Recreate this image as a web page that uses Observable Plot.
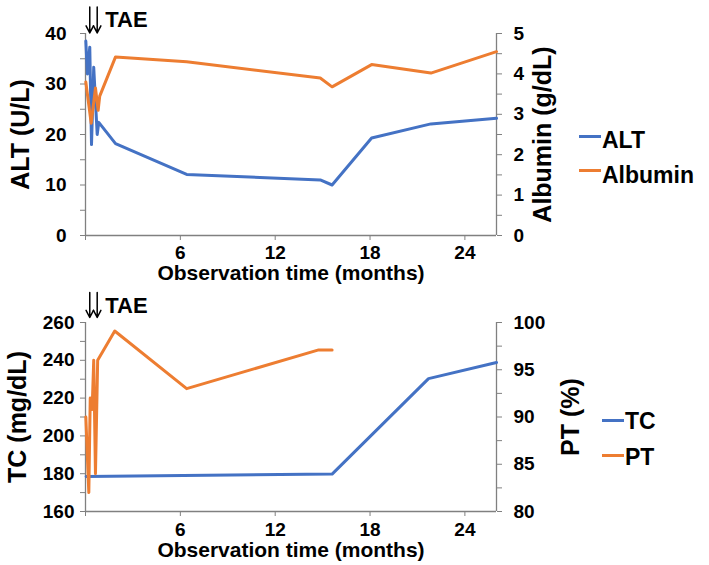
<!DOCTYPE html>
<html><head><meta charset="utf-8">
<script src="https://cdn.jsdelivr.net/npm/d3@7"></script>
<script src="https://cdn.jsdelivr.net/npm/@observablehq/plot@0.6"></script>
<style>
body{margin:0;background:#fff;}
#wrap{position:relative;width:709px;height:565px;font-family:'Liberation Sans',Arial,sans-serif;font-weight:bold;color:#000;background:#fff;}
#wrap svg{display:block;}
.sw{position:absolute;height:3px;width:22px;}
.lt{position:absolute;font-size:23px;line-height:23px;white-space:nowrap;}
</style></head><body><div id="wrap"></div>
<script>
// ---- data ----
const xTicks = [0, 6, 12, 18, 24];
const xMax = 26;
const taeMonths = [0.27, 0.74];

const altMonths = [0.02, 0.12, 0.27, 0.38, 0.52, 0.74, 0.84, 1.9, 6.4, 14.85, 15.6, 18.1, 21.85, 26];
const altValues = [38.5, 32.0, 37.3, 18.0, 33.3, 20.0, 22.4, 18.2, 12.1, 11.0, 10.0, 19.3, 22.1, 23.2];

const albMonths = [0.02, 0.36, 0.63, 0.8, 0.9, 1.9, 6.4, 14.85, 15.6, 18.1, 21.85, 26];
const albValues = [3.8, 2.78, 3.65, 3.1, 3.45, 4.42, 4.3, 3.9, 3.68, 4.23, 4.02, 4.55];

const tcMonths = [0.04, 15.6, 21.7, 26];
const tcValues = [178.5, 179.8, 230.3, 238.8];

const ptMonths = [0.02, 0.21, 0.3, 0.42, 0.52, 0.63, 0.77, 1.85, 6.4, 14.75, 15.6];
const ptValues = [90.0, 82.0, 92.0, 90.8, 96.0, 84.0, 96.0, 99.1, 93.0, 97.1, 97.1];

const altTicks = d3.range(0, 41, 5);      // labels every 10
const albTicks = d3.range(0, 5.01, 0.5);  // labels every 1
const tcTicks = d3.range(160, 261, 10);   // labels every 20
const ptTicks = d3.range(80, 100.01, 2.5);// labels every 5

// ---- style ----
const BLUE = "#4472C4", ORANGE = "#ED7D31", AXIS = "#808080";
const FONT = "'Liberation Sans', Arial, sans-serif";
const W = 709, ML = 85, MR = 213;
const TICK_FS = 19;

function rows(ts, vs, f = v => v) { return ts.map((t, i) => ({t, v: f(vs[i])})); }

function chart(o) {
  const [y0, y1] = o.yDomain;
  const innerH = o.height - o.marginTop - o.marginBottom;
  const ppu = innerH / (y1 - y0);
  const toLeft = o.toLeft;
  const txt = {fontWeight: "bold", fill: "black", lineAnchor: "middle"};
  return Plot.plot({
    width: W, height: o.height,
    marginLeft: ML, marginRight: MR, marginTop: o.marginTop, marginBottom: o.marginBottom,
    style: {fontFamily: FONT, fontWeight: "bold", fontSize: TICK_FS + "px", color: "black", background: "white", overflow: "visible"},
    x: {domain: [0, xMax]},
    y: {domain: o.yDomain},
    marks: [
      Plot.ruleX([0, xMax], {stroke: AXIS, strokeWidth: 1.3}),
      Plot.ruleY([y0], {stroke: AXIS, strokeWidth: 1.3}),
      Plot.axisX({ticks: xTicks, tickFormat: d => d === 0 ? "" : d, tickSize: 5, tickPadding: o.xPad,
        stroke: AXIS, fill: "black", fontSize: TICK_FS, fontWeight: "bold", label: null}),
      Plot.axisY({anchor: "left", ticks: o.leftTicks, tickFormat: o.leftFmt, tickSize: 5, tickPadding: o.leftPad,
        stroke: AXIS, fill: "black", fontSize: TICK_FS, fontWeight: "bold", label: null}),
      Plot.axisY({anchor: "right", ticks: o.rightTicks.map(toLeft), tickFormat: o.rightFmt, tickSize: 5, tickPadding: 12,
        stroke: AXIS, fill: "black", fontSize: TICK_FS, fontWeight: "bold", label: null}),
      Plot.line(o.leftRows, {x: "t", y: "v", stroke: BLUE, strokeWidth: 3}),
      Plot.line(o.rightRows, {x: "t", y: "v", stroke: ORANGE, strokeWidth: 3}),
      Plot.arrow(taeMonths, {x1: d => d, x2: d => d, y1: y1 + o.arrowTop / ppu, y2: y1 + o.arrowTip / ppu,
        stroke: "black", strokeWidth: 1.5, headLength: 8, headAngle: 55}),
      Plot.text(["TAE"], {...txt, x: taeMonths[1], frameAnchor: "top", dy: o.taeDy, dx: 8, textAnchor: "start", fontSize: 22}),
      Plot.text(["Observation time (months)"], {...txt, frameAnchor: "bottom", dy: o.xTitleDy, fontSize: 21, textAnchor: "middle"}),
      Plot.text([o.leftTitle], {...txt, frameAnchor: "left", dx: o.leftTitleDx, rotate: -90, fontSize: 25, textAnchor: "middle"}),
      Plot.text([o.rightTitle], {...txt, frameAnchor: "right", dx: o.rightTitleDx, rotate: -90, fontSize: 25, textAnchor: "middle"})
    ]
  });
}

const albToAlt = v => v * 8;
const ptToTc = v => 160 + (v - 80) * 5;

const chartTop = chart({
  height: 285, marginTop: 33, marginBottom: 50, yDomain: [0, 40],
  leftTicks: altTicks, leftFmt: d => d % 10 === 0 ? d : "", leftPad: 14,
  rightTicks: albTicks, toLeft: albToAlt, rightFmt: d => (d / 8) % 1 === 0 ? d / 8 : "",
  leftRows: rows(altMonths, altValues), rightRows: rows(albMonths, albValues, albToAlt),
  arrowTop: 26.5, arrowTip: 0.6, taeDy: -14, xPad: 5, xTitleDy: 38,
  leftTitle: "ALT (U/L)", leftTitleDx: -65, rightTitle: "Albumin (g/dL)", rightTitleDx: 46
});

const chartBottom = chart({
  height: 280, marginTop: 37, marginBottom: 54, yDomain: [160, 260],
  leftTicks: tcTicks, leftFmt: d => d % 20 === 0 ? d : "", leftPad: 6,
  rightTicks: ptTicks, toLeft: ptToTc, rightFmt: d => { const p = 80 + (d - 160) / 5; return p % 5 === 0 ? p : ""; },
  leftRows: rows(tcMonths, tcValues), rightRows: rows(ptMonths, ptValues, ptToTc),
  arrowTop: 30, arrowTip: 5, taeDy: -17, xPad: 6, xTitleDy: 39,
  leftTitle: "TC (mg/dL)", leftTitleDx: -68, rightTitle: "PT (%)", rightTitleDx: 74
});

const wrap = document.getElementById("wrap");
wrap.appendChild(chartTop);
wrap.appendChild(chartBottom);

// ---- legends ----
const legends = [
  {name: "ALT", color: BLUE, lineX: 579, lineY: 136, textX: 602, textY: 140},
  {name: "Albumin", color: ORANGE, lineX: 579, lineY: 170, textX: 602, textY: 175},
  {name: "TC", color: BLUE, lineX: 602, lineY: 420, textX: 625, textY: 421},
  {name: "PT", color: ORANGE, lineX: 602, lineY: 455, textX: 625, textY: 457}
];
for (const l of legends) {
  const sw = document.createElement("div");
  sw.className = "sw";
  sw.style.left = l.lineX + "px";
  sw.style.top = (l.lineY - 1.5) + "px";
  sw.style.background = l.color;
  wrap.appendChild(sw);
  const t = document.createElement("div");
  t.className = "lt";
  t.textContent = l.name;
  t.style.left = l.textX + "px";
  t.style.top = (l.textY - 11.5) + "px";
  wrap.appendChild(t);
}
</script>
</body></html>
